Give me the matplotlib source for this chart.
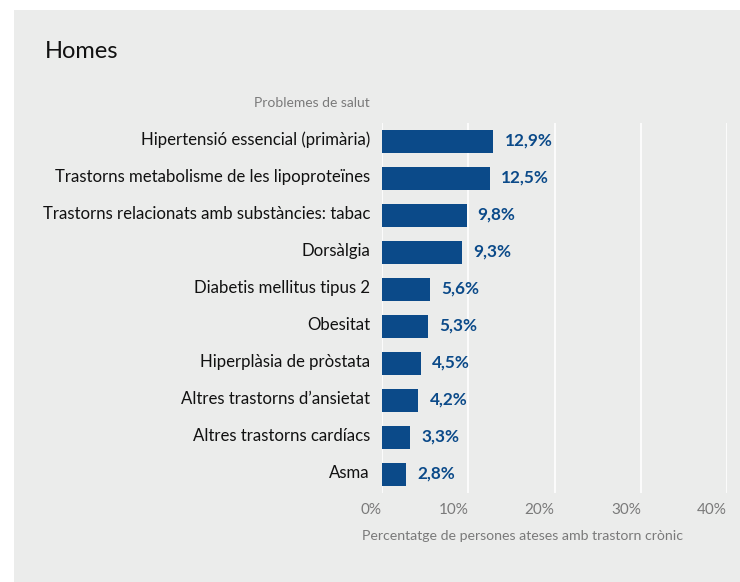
import matplotlib
matplotlib.use("Agg")
import matplotlib.pyplot as plt
from matplotlib.patches import Rectangle

plt.rcParams['font.family'] = ['Lato', 'DejaVu Sans']

categories = [
    'Hipertensió essencial (primària)',
    'Trastorns metabolisme de les lipoproteïnes',
    'Trastorns relacionats amb substàncies: tabac',
    'Dorsàlgia',
    'Diabetis mellitus tipus 2',
    'Obesitat',
    'Hiperplàsia de pròstata',
    'Altres trastorns d’ansietat',
    'Altres trastorns cardíacs',
    'Asma',
]
values = [12.9, 12.5, 9.8, 9.3, 5.6, 5.3, 4.5, 4.2, 3.3, 2.8]
xticks = [0, 10, 20, 30, 40]

bar_color = '#0b4a89'
panel_color = '#ebeceb'
grey_text = '#7a7a7a'

W, H = 740, 582
fig = plt.figure(figsize=(W / 100, H / 100), dpi=100)
fig.patch.set_facecolor('white')
fig.patches.append(Rectangle((14 / W, 0), 1, 1 - 10 / H, transform=fig.transFigure,
                             facecolor=panel_color, edgecolor='none', zorder=-10))

ax = fig.add_axes([382 / W, 1 - 493 / H, (727 - 382) / W, (493 - 123) / H])
ax.patch.set_alpha(0)

y = list(range(len(categories)))
ax.barh(y, values, height=0.6, color=bar_color, zorder=3)
for yi, v, c in zip(y, values, categories):
    # baseline sits a little below the bar centre
    ax.text(v + 1.3, yi + 0.1, f'{v:.1f}%'.replace('.', ','), va='baseline', ha='left',
            color=bar_color, fontsize=12.3, fontweight='bold')
    ax.text(-0.035, yi + 0.1, c, transform=ax.get_yaxis_transform(), va='baseline',
            ha='right', fontsize=12.1, color='#111111')

ax.set_xlim(0, 40)
ax.set_ylim(9.5, -0.5)
ax.set_xticks([])
ax.set_yticks([])
for t in xticks:
    ax.axvline(t, color='white', lw=1.2, zorder=1)
for s in ax.spines.values():
    s.set_visible(False)

# x tick labels right-aligned at their gridline
for t in xticks:
    ax.text(t, -17 / 370, f'{t}%', transform=ax.get_xaxis_transform(), ha='right',
            va='center', fontsize=11, color=grey_text)

fig.text(362 / W, 1 - 536 / H, 'Percentatge de persones ateses amb trastorn crònic',
         ha='left', va='center', fontsize=10.2, color=grey_text)
fig.text(370 / W, 1 - 103 / H, 'Problemes de salut', ha='right', va='center',
         fontsize=10, color=grey_text)
fig.text(45 / W, 1 - 51 / H, 'Homes', ha='left', va='center', fontsize=17, color='#111111')

fig.savefig('out.png', dpi=100, facecolor=fig.get_facecolor())
